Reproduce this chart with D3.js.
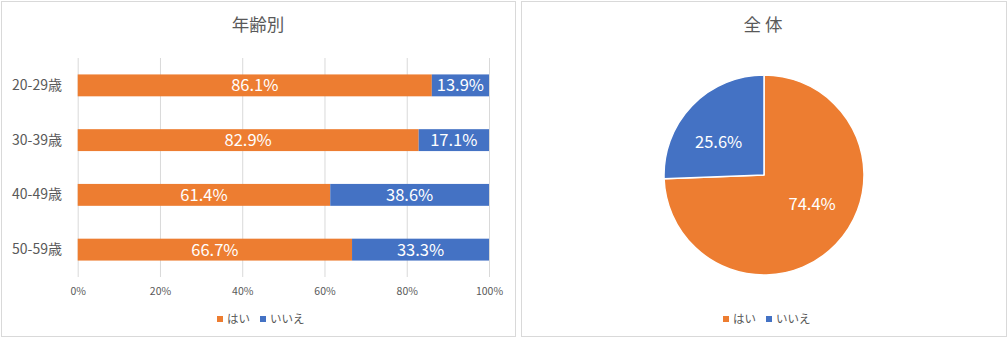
<!DOCTYPE html>
<html>
<head>
<meta charset="utf-8">
<script src="https://cdn.jsdelivr.net/npm/d3@7/dist/d3.min.js"></script>
<style>
  html, body { margin: 0; padding: 0; background: #fff; }
  svg { display: block; }
  text { font-family: "Noto Sans CJK JP", "Noto Sans", sans-serif; }
</style>
</head>
<body>
<svg id="chart" width="1008" height="339"></svg>
<script>
// Survey answers by age group (share of respondents, %)
const ageGroups = ["20-29歳", "30-39歳", "40-49歳", "50-59歳"];
const yesShare = [86.1, 82.9, 61.4, 66.7];
const noShare = [13.9, 17.1, 38.6, 33.3];
// Overall share (%)
const overallShare = [74.4, 25.6];
const seriesNames = ["はい", "いいえ"];
const xTicks = [0, 20, 40, 60, 80, 100];
const titles = ["年齢別", "全 体"];

const colors = ["#ED7D31", "#4472C4"];
const textGray = "#595959";
const gridGray = "#D9D9D9";

const svg = d3.select("#chart");

// Panel frames
svg.append("rect").attr("x", 1.5).attr("y", 1.5).attr("width", 514).attr("height", 335)
  .attr("fill", "#fff").attr("stroke", gridGray);
svg.append("rect").attr("x", 521.5).attr("y", 1.5).attr("width", 485).attr("height", 335)
  .attr("fill", "#fff").attr("stroke", gridGray);

// ---------- Left: 100% stacked bar by age ----------
const left = svg.append("g");
left.append("text").attr("x", 258).attr("y", 31).attr("text-anchor", "middle")
  .attr("font-size", 17.5).attr("fill", textGray).text(titles[0]);

const x = d3.scaleLinear().domain([0, 100]).range([77.7, 489]);
const y = d3.scaleBand().domain(ageGroups).range([58, 277]).paddingInner(0.6).paddingOuter(0.3);

// Gridlines
left.append("g").selectAll("line").data(xTicks).join("line")
  .attr("x1", d => x(d) + 0.5).attr("x2", d => x(d) + 0.5)
  .attr("y1", 58).attr("y2", 277)
  .attr("stroke", gridGray).attr("stroke-width", 1);

// Tick labels
const xAxis = d3.axisBottom(x).tickValues(xTicks).tickFormat(d => d + "%").tickSize(0).tickPadding(0);
const axG = left.append("g").attr("transform", "translate(0,288)").call(xAxis);
axG.select(".domain").remove();
axG.selectAll("text").attr("font-size", 10.5).attr("fill", textGray)
  .attr("font-family", '"Noto Sans CJK JP", sans-serif');

// Category labels
const yAxis = d3.axisLeft(y).tickSize(0).tickPadding(0);
const ayG = left.append("g").attr("transform", "translate(62,0)").call(yAxis);
ayG.select(".domain").remove();
ayG.selectAll("text").attr("font-size", 14).attr("fill", textGray)
  .attr("font-family", '"Noto Sans CJK JP", sans-serif');

const rows = ageGroups.map((g, i) => ({ group: g, values: [yesShare[i], noShare[i]] }));
const segs = [];
rows.forEach(r => {
  let acc = 0;
  r.values.forEach((v, k) => {
    segs.push({ group: r.group, k, v, x0: acc, x1: acc + v });
    acc += v;
  });
});

left.append("g").selectAll("rect").data(segs).join("rect")
  .attr("x", d => x(d.x0)).attr("width", d => x(d.x1) - x(d.x0))
  .attr("y", d => y(d.group)).attr("height", y.bandwidth())
  .attr("fill", d => colors[d.k]);

left.append("g").selectAll("text").data(segs).join("text")
  .attr("x", d => (x(d.x0) + x(d.x1)) / 2)
  .attr("y", d => y(d.group) + y.bandwidth() / 2)
  .attr("dy", "0.36em").attr("text-anchor", "middle")
  .attr("font-size", 16.5).attr("fill", "#fff")
  .text(d => d.v.toFixed(1) + "%");

// Legend helper
function legend(g, xs) {
  seriesNames.forEach((name, k) => {
    g.append("rect").attr("x", xs[k]).attr("y", 316).attr("width", 6).attr("height", 6)
      .attr("fill", colors[k]);
    g.append("text").attr("x", xs[k] + 10).attr("y", 319).attr("dy", "0.36em")
      .attr("font-size", 11.5).attr("fill", textGray).text(name);
  });
}
legend(left, [217, 260]);

// ---------- Right: overall pie ----------
const right = svg.append("g");
right.append("text").attr("x", 763).attr("y", 31).attr("text-anchor", "middle")
  .attr("font-size", 17.5).attr("fill", textGray).attr("xml:space", "preserve").text(titles[1]);

const cx = 764, cy = 175, r = 100;
const pie = d3.pie().sort(null).value(d => d);
const arcs = pie(overallShare);
const arc = d3.arc().innerRadius(0).outerRadius(r);

const pg = right.append("g").attr("transform", `translate(${cx},${cy})`);
pg.selectAll("path").data(arcs).join("path")
  .attr("d", arc).attr("fill", (d, i) => colors[i])
  .attr("stroke", "#fff").attr("stroke-width", 1.5).attr("stroke-linejoin", "round");

// Labels sit inside each slice, a little counter-clockwise of its middle
const labelTurn = [-0.23, -0.14];
pg.selectAll("text").data(arcs).join("text")
  .attr("transform", (d, i) => {
    const mid = (d.startAngle + d.endAngle) / 2 + labelTurn[i];
    const rr = r * 0.56;
    return `translate(${rr * Math.sin(mid)},${-rr * Math.cos(mid)})`;
  })
  .attr("dy", "0.36em").attr("text-anchor", "middle")
  .attr("font-size", 16.5).attr("fill", "#fff")
  .text(d => d.data.toFixed(1) + "%");

legend(right, [723, 766]);
</script>
</body>
</html>
